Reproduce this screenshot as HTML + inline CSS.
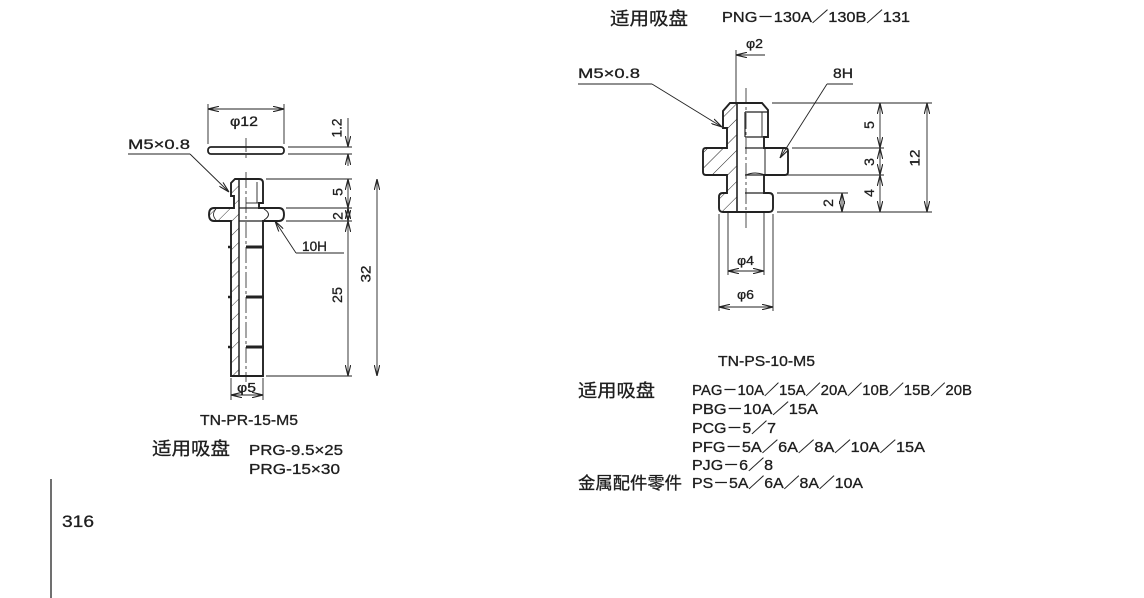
<!DOCTYPE html>
<html><head><meta charset="utf-8"><style>
html,body{margin:0;padding:0;background:#fff;}
svg{display:block;}
text{font-family:"Liberation Sans","Noto Sans CJK SC",sans-serif;fill:#1e1e1e;stroke:#1e1e1e;stroke-width:0.3;}
</style></head><body>
<svg width="1144" height="598" viewBox="0 0 1144 598" xmlns="http://www.w3.org/2000/svg">
<defs>
<marker id="a" viewBox="0 0 11 6" refX="11" refY="3" markerWidth="11" markerHeight="6" markerUnits="userSpaceOnUse" orient="auto-start-reverse"><path d="M0,0.3 L11,3 L0,5.7" fill="none" stroke="#222" stroke-width="1.1"/></marker>
<pattern id="h" width="10" height="10" patternUnits="userSpaceOnUse" patternTransform="rotate(45)"><line x1="0" y1="0" x2="0" y2="10" stroke="#222" stroke-width="0.9"/></pattern>
<pattern id="h2" width="11" height="11" patternUnits="userSpaceOnUse" patternTransform="rotate(45)"><line x1="0" y1="0" x2="0" y2="11" stroke="#222" stroke-width="1"/></pattern>
</defs>

<!-- page rule and number -->
<line x1="51" y1="479" x2="51" y2="598" stroke="#222" stroke-width="1.3"/>
<text x="62" y="527" font-size="17" textLength="32" lengthAdjust="spacingAndGlyphs">316</text>

<!-- ================= LEFT DRAWING ================= -->
<g stroke="#222" fill="none">
  <rect x="208" y="147" width="76" height="7" rx="3" stroke-width="1.8"/>
  <line x1="208" y1="104" x2="208" y2="144" stroke-width="0.9"/>
  <line x1="284" y1="104" x2="284" y2="144" stroke-width="0.9"/>
  <line x1="208" y1="109" x2="284" y2="109" stroke-width="0.9" marker-start="url(#a)" marker-end="url(#a)"/>
  <line x1="288" y1="147" x2="352" y2="147" stroke-width="0.9"/>
  <line x1="288" y1="154" x2="352" y2="154" stroke-width="0.9"/>
  <line x1="348" y1="118" x2="348" y2="147" stroke-width="0.9" marker-end="url(#a)"/>
  <line x1="348" y1="166" x2="348" y2="154" stroke-width="0.9" marker-end="url(#a)"/>

  <line x1="246" y1="138" x2="246" y2="160" stroke-width="0.8" stroke-dasharray="14 3 3 3"/>
  <line x1="246" y1="172" x2="246" y2="382" stroke-width="0.8" stroke-dasharray="16 3 3 3"/>

  <path d="M235,179 L239,179 L239,376 L231,376 L231,221 L214,221 Q209,221 209,214.5 Q209,208 214,208 L234,208 L234,196 L231,196 L231,183 Z" fill="url(#h)" stroke="none"/>

  <path d="M235,179 L259,179 Q263,179 263,183 L263,203 L259,203 L259,208 L279,208 Q284,208 284,214.5 Q284,221 279,221 L263,221 L263,376 L231,376 L231,221 L214,221 Q209,221 209,214.5 Q209,208 214,208 L234,208 L234,196 L231,196 L231,183 Z" stroke-width="1.9"/>
  <line x1="239" y1="179" x2="239" y2="376" stroke-width="1.5"/>
  <line x1="257" y1="182" x2="257" y2="203" stroke-width="0.9"/>
  <line x1="246" y1="203" x2="259" y2="203" stroke-width="0.9"/>
  <line x1="239" y1="208" x2="259" y2="208" stroke-width="1.2"/>
  <line x1="239" y1="221" x2="263" y2="221" stroke-width="1.2"/>
  <path d="M264,209 Q273,214.5 264,220" stroke-width="1"/>
  <path d="M216,209 Q211,214.5 216,220" stroke-width="0.8"/>
  <line x1="246" y1="247" x2="264" y2="247" stroke-width="3"/>
  <line x1="246" y1="297" x2="264" y2="297" stroke-width="3"/>
  <line x1="246" y1="347" x2="264" y2="347" stroke-width="3"/>
  <line x1="228" y1="247" x2="232" y2="247" stroke-width="2.5"/>
  <line x1="228" y1="297" x2="232" y2="297" stroke-width="2.5"/>
  <line x1="228" y1="347" x2="232" y2="347" stroke-width="2.5"/>

  <line x1="266" y1="179" x2="352" y2="179" stroke-width="0.9"/>
  <line x1="286" y1="208" x2="352" y2="208" stroke-width="0.9"/>
  <line x1="286" y1="221" x2="352" y2="221" stroke-width="0.9"/>
  <line x1="266" y1="376" x2="352" y2="376" stroke-width="0.9"/>
  <line x1="348" y1="179" x2="348" y2="208" stroke-width="0.9" marker-start="url(#a)" marker-end="url(#a)"/>
  <line x1="348" y1="208" x2="348" y2="221" stroke-width="0.9" marker-start="url(#a)" marker-end="url(#a)"/>
  <line x1="348" y1="221" x2="348" y2="376" stroke-width="0.9" marker-start="url(#a)" marker-end="url(#a)"/>
  <line x1="377" y1="179" x2="377" y2="376" stroke-width="0.9" marker-start="url(#a)" marker-end="url(#a)"/>

  <line x1="231" y1="378" x2="231" y2="400" stroke-width="0.9"/>
  <line x1="263" y1="378" x2="263" y2="400" stroke-width="0.9"/>
  <line x1="231" y1="395" x2="263" y2="395" stroke-width="0.9" marker-start="url(#a)" marker-end="url(#a)"/>

  <line x1="128" y1="154" x2="190" y2="154" stroke-width="0.9"/>
  <line x1="190" y1="154" x2="229" y2="192" stroke-width="0.9" marker-end="url(#a)"/>
  <line x1="296" y1="253" x2="344" y2="253" stroke-width="0.9"/>
  <line x1="296" y1="253" x2="275" y2="221" stroke-width="0.9" marker-end="url(#a)"/>
</g>

<text x="230" y="126" font-size="14" textLength="28" lengthAdjust="spacingAndGlyphs">φ12</text>
<text x="128" y="149" font-size="14" textLength="62" lengthAdjust="spacingAndGlyphs">M5×0.8</text>
<text x="302" y="251" font-size="14" textLength="25" lengthAdjust="spacingAndGlyphs">10H</text>
<text x="237" y="392" font-size="13" textLength="19" lengthAdjust="spacingAndGlyphs">φ5</text>
<g font-size="14">
<text transform="translate(336.5,128) rotate(-90)" x="0" y="5" text-anchor="middle" textLength="19" lengthAdjust="spacingAndGlyphs">1.2</text>
<text transform="translate(337.5,192) rotate(-90)" x="0" y="5" text-anchor="middle">5</text>
<text transform="translate(337.5,216) rotate(-90)" x="0" y="5" text-anchor="middle">2</text>
<text transform="translate(337,295) rotate(-90)" x="0" y="5" text-anchor="middle" textLength="16" lengthAdjust="spacingAndGlyphs">25</text>
<text transform="translate(365.5,274) rotate(-90)" x="0" y="5" text-anchor="middle" textLength="17" lengthAdjust="spacingAndGlyphs">32</text>
</g>
<text x="200" y="425" font-size="15" textLength="98" lengthAdjust="spacingAndGlyphs">TN-PR-15-M5</text>
<text x="152" y="455" font-size="18" textLength="78" lengthAdjust="spacingAndGlyphs">适用吸盘</text>
<text x="249" y="455" font-size="14.5" textLength="94" lengthAdjust="spacingAndGlyphs">PRG-9.5×25</text>
<text x="249" y="474" font-size="14.5" textLength="91" lengthAdjust="spacingAndGlyphs">PRG-15×30</text>

<!-- ================= RIGHT DRAWING ================= -->
<text x="610" y="25" font-size="18" textLength="78" lengthAdjust="spacingAndGlyphs">适用吸盘</text>
<text x="722" y="22" font-size="14.5" textLength="188" lengthAdjust="spacingAndGlyphs">PNG－130A／130B／131</text>

<g stroke="#222" fill="none">
  <path d="M730,103 L737,103 L737,212 L723,212 Q719,212 719,208 L719,197 Q719,193 723,193 L727,193 L727,175 L706,175 Q703,175 703,172 L703,151 Q703,148 706,148 L727,148 L727,128 L723,128 L723,111 Z" fill="url(#h2)" stroke="none"/>
  <path d="M730,103 L762,103 L768,110 L768,137 L764,137 L764,148 L785,148 Q788,148 788,151 L788,172 Q788,175 785,175 L764,175 L764,193 L769,193 Q773,193 773,197 L773,208 Q773,212 769,212 L723,212 Q719,212 719,208 L719,197 Q719,193 723,193 L727,193 L727,175 L706,175 Q703,175 703,172 L703,151 Q703,148 706,148 L727,148 L727,128 L723,128 L723,111 Z" stroke-width="1.9"/>
  <line x1="737" y1="103" x2="737" y2="212" stroke-width="1.6"/>
  <line x1="745" y1="112" x2="768" y2="112" stroke-width="1.2"/>
  <line x1="745" y1="112" x2="745" y2="137" stroke-width="1.2"/>
  <line x1="745" y1="137" x2="768" y2="137" stroke-width="1.2"/>
  <line x1="762" y1="112" x2="762" y2="137" stroke-width="0.9"/>
  <line x1="745" y1="148" x2="764" y2="148" stroke-width="1.2"/>
  <line x1="745" y1="175" x2="764" y2="175" stroke-width="1.2"/>
  <line x1="765" y1="148" x2="765" y2="175" stroke-width="1"/>
  <path d="M746,175 Q755,171 765,175" stroke-width="0.9"/>
  <line x1="745" y1="193" x2="764" y2="193" stroke-width="1.2"/>
  <line x1="746" y1="88" x2="746" y2="228" stroke-width="0.8" stroke-dasharray="16 3 3 3"/>
  <line x1="736" y1="50" x2="736" y2="103" stroke-width="0.9"/>
  <line x1="765" y1="55" x2="736" y2="55" stroke-width="0.9" marker-end="url(#a)"/>

  <line x1="578" y1="84" x2="652" y2="84" stroke-width="0.9"/>
  <line x1="652" y1="84" x2="722" y2="127" stroke-width="0.9" marker-end="url(#a)"/>
  <line x1="827" y1="84" x2="853" y2="84" stroke-width="0.9"/>
  <line x1="827" y1="84" x2="780" y2="158" stroke-width="0.9" marker-end="url(#a)"/>

  <line x1="772" y1="103" x2="932" y2="103" stroke-width="0.9"/>
  <line x1="792" y1="148" x2="884" y2="148" stroke-width="0.9"/>
  <line x1="777" y1="175" x2="884" y2="175" stroke-width="0.9"/>
  <line x1="777" y1="193" x2="848" y2="193" stroke-width="0.9"/>
  <line x1="777" y1="212" x2="932" y2="212" stroke-width="0.9"/>
  <line x1="880" y1="103" x2="880" y2="148" stroke-width="0.9" marker-start="url(#a)" marker-end="url(#a)"/>
  <line x1="880" y1="148" x2="880" y2="175" stroke-width="0.9" marker-start="url(#a)" marker-end="url(#a)"/>
  <line x1="880" y1="175" x2="880" y2="212" stroke-width="0.9" marker-start="url(#a)" marker-end="url(#a)"/>
  <line x1="927" y1="103" x2="927" y2="212" stroke-width="0.9" marker-start="url(#a)" marker-end="url(#a)"/>
  <line x1="842" y1="193" x2="842" y2="212" stroke-width="0.9" marker-start="url(#a)" marker-end="url(#a)"/>

  <line x1="719" y1="214" x2="719" y2="311" stroke-width="0.9"/>
  <line x1="773" y1="214" x2="773" y2="311" stroke-width="0.9"/>
  <line x1="728" y1="212" x2="728" y2="275" stroke-width="0.9"/>
  <line x1="764" y1="212" x2="764" y2="275" stroke-width="0.9"/>
  <line x1="728" y1="271" x2="764" y2="271" stroke-width="0.9" marker-start="url(#a)" marker-end="url(#a)"/>
  <line x1="719" y1="307" x2="773" y2="307" stroke-width="0.9" marker-start="url(#a)" marker-end="url(#a)"/>
</g>

<text x="746" y="48" font-size="13" textLength="17" lengthAdjust="spacingAndGlyphs">φ2</text>
<text x="578" y="78" font-size="14" textLength="62" lengthAdjust="spacingAndGlyphs">M5×0.8</text>
<text x="833" y="78" font-size="14" textLength="20" lengthAdjust="spacingAndGlyphs">8H</text>
<g font-size="14">
<text transform="translate(869,125) rotate(-90)" x="0" y="5" text-anchor="middle">5</text>
<text transform="translate(869,162) rotate(-90)" x="0" y="5" text-anchor="middle">3</text>
<text transform="translate(869,193) rotate(-90)" x="0" y="5" text-anchor="middle">4</text>
<text transform="translate(914.5,158) rotate(-90)" x="0" y="5" text-anchor="middle" textLength="17" lengthAdjust="spacingAndGlyphs">12</text>
<text transform="translate(828,203) rotate(-90)" x="0" y="5" text-anchor="middle">2</text>
</g>
<text x="737" y="265" font-size="13" textLength="17" lengthAdjust="spacingAndGlyphs">φ4</text>
<text x="737" y="299" font-size="13" textLength="17" lengthAdjust="spacingAndGlyphs">φ6</text>
<text x="718" y="366" font-size="15" textLength="97" lengthAdjust="spacingAndGlyphs">TN-PS-10-M5</text>

<text x="578" y="397" font-size="18" textLength="77" lengthAdjust="spacingAndGlyphs">适用吸盘</text>
<text x="692" y="395" font-size="14.5" textLength="280" lengthAdjust="spacingAndGlyphs">PAG－10A／15A／20A／10B／15B／20B</text>
<text x="692" y="414" font-size="14.5" textLength="126" lengthAdjust="spacingAndGlyphs">PBG－10A／15A</text>
<text x="692" y="433" font-size="14.5" textLength="84" lengthAdjust="spacingAndGlyphs">PCG－5／7</text>
<text x="692" y="452" font-size="14.5" textLength="233" lengthAdjust="spacingAndGlyphs">PFG－5A／6A／8A／10A／15A</text>
<text x="692" y="470" font-size="14.5" textLength="81" lengthAdjust="spacingAndGlyphs">PJG－6／8</text>
<text x="578" y="489" font-size="17" textLength="104" lengthAdjust="spacingAndGlyphs">金属配件零件</text>
<text x="692" y="488" font-size="14.5" textLength="171" lengthAdjust="spacingAndGlyphs">PS－5A／6A／8A／10A</text>
</svg>
</body></html>
